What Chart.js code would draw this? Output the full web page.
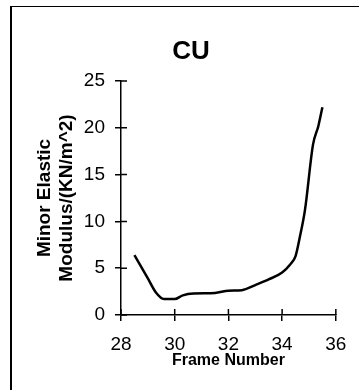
<!DOCTYPE html>
<html>
<head>
<meta charset="utf-8">
<script src="https://cdn.jsdelivr.net/npm/chart.js@4"></script>
<style>
  html, body { margin: 0; padding: 0; background: #fff; overflow: hidden; }
  #wrap { position: relative; width: 359px; height: 390px; }
  #frame { position: absolute; left: 10px; top: 6px; width: 360px; height: 400px;
           border-left: 2px solid #000; border-top: 1px solid #000; }
  #myChart { position: absolute; left: 0; top: 0; }
</style>
</head>
<body>
<div id="wrap">
  <div id="frame"></div>
  <canvas id="myChart" width="359" height="390"></canvas>
</div>
<script>
// frame number vs minor elastic modulus
const frames  = [28.5, 29.0, 29.3, 29.6, 30.0, 30.3, 30.7, 31.5, 32.0, 32.5, 33.0, 33.5, 34.0, 34.3, 34.5, 34.65, 34.85, 35.15, 35.35, 35.5];
const modulus = [6.4, 3.9, 2.4, 1.7, 1.7, 2.1, 2.3, 2.35, 2.6, 2.65, 3.2, 3.8, 4.55, 5.4, 6.3, 8.2, 11.2, 18.2, 20.2, 22.2];
const xTicks = [28, 30, 32, 34, 36];
const yTicks = [0, 5, 10, 15, 20, 25];

const tickFont = { family: "'Liberation Sans', Arial, sans-serif", size: 19 };

// ticks in the original cross the axis, so draw the inner half too
const innerTicks = {
    id: 'innerTicks',
    afterDraw(chart) {
        const c = chart.ctx;
        const xs = chart.scales.x, ys = chart.scales.y;
        c.save();
        c.strokeStyle = '#000';
        c.lineWidth = 1.5;
        c.beginPath();
        xs.ticks.forEach(t => {
            const px = xs.getPixelForValue(t.value);
            c.moveTo(px, ys.bottom);
            c.lineTo(px, ys.bottom - 6);
        });
        ys.ticks.forEach(t => {
            const py = ys.getPixelForValue(t.value);
            c.moveTo(xs.left, py);
            c.lineTo(xs.left + 6, py);
        });
        c.stroke();
        c.restore();
    }
};

function createChart() {
    const points = frames.map((f, i) => ({ x: f, y: modulus[i] }));
    const config = {
        type: 'scatter',
        data: {
            datasets: [{
                data: points,
                showLine: true,
                borderColor: '#000',
                borderWidth: 2.5,
                pointRadius: 0,
                cubicInterpolationMode: 'monotone',
                fill: false
            }]
        },
        options: {
            responsive: false,
            animation: false,
            layout: { padding: { left: 39, right: 16, top: 0, bottom: 0 } },
            plugins: {
                legend: { display: false },
                tooltip: { enabled: false },
                title: {
                    display: true,
                    text: 'CU',
                    color: '#000',
                    font: { family: "'Liberation Sans', Arial, sans-serif", size: 26, weight: 'bold' },
                    padding: { top: 36.4, bottom: 13.4 }
                }
            },
            scales: {
                x: {
                    type: 'linear',
                    min: 28, max: 36,
                    afterBuildTicks: (s) => { s.ticks = xTicks.map(v => ({ value: v })); },
                    afterFit: (s) => { s.height = 75; },
                    grid: { drawOnChartArea: false, drawTicks: true, tickLength: 6, color: '#000', lineWidth: 1.5 },
                    border: { display: true, color: '#000', width: 1.5 },
                    ticks: { color: '#000', font: tickFont, padding: 12.6, maxRotation: 0 },
                    title: {
                        display: true,
                        text: 'Frame Number',
                        color: '#000',
                        font: { family: "'Liberation Sans', Arial, sans-serif", size: 16, weight: 'bold' },
                        padding: { top: 0, bottom: 19.4 }
                    }
                },
                y: {
                    type: 'linear',
                    min: 0, max: 25,
                    afterBuildTicks: (s) => { s.ticks = yTicks.map(v => ({ value: v })); },
                    afterFit: (s) => { s.width = 82; },
                    grid: { drawOnChartArea: false, drawTicks: true, tickLength: 6, color: '#000', lineWidth: 1.5 },
                    border: { display: true, color: '#000', width: 1.5 },
                    ticks: { color: '#000', font: tickFont, padding: 10 },
                    title: {
                        display: true,
                        text: ['Minor Elastic', 'Modulus/(KN/m^2)'],
                        color: '#000',
                        font: { family: "'Liberation Sans', Arial, sans-serif", size: 19, weight: 'bold', lineHeight: 1.16 },
                        padding: { top: -5, bottom: 0 }
                    }
                }
            }
        },
        plugins: [innerTicks]
    };
    var myChart = new Chart('myChart', config);
}
createChart();
</script>
</body>
</html>
